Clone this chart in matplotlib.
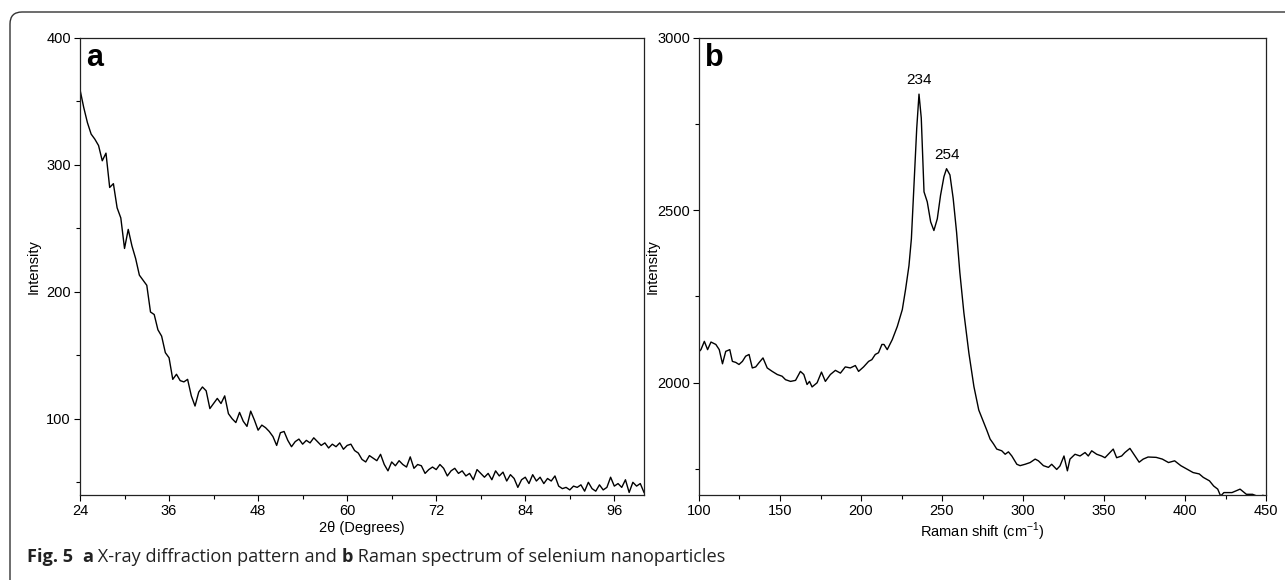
import numpy as np
import matplotlib
matplotlib.use("Agg")
import matplotlib.pyplot as plt
from matplotlib.ticker import MultipleLocator, FixedLocator
from matplotlib.patches import FancyBboxPatch

# ---------------- data ----------------
xrd_2theta = [
    24.0, 24.5, 25.0, 25.5, 26.0, 26.5, 27.0, 27.5, 28.0, 28.5,
    29.0, 29.5, 30.0, 30.5, 31.0, 31.5, 32.0, 32.5, 33.0, 33.5,
    34.0, 34.5, 35.0, 35.5, 36.0, 36.5, 37.0, 37.5, 38.0, 38.5,
    39.0, 39.5, 40.0, 40.5, 41.0, 41.5, 42.0, 42.5, 43.0, 43.5,
    44.0, 44.5, 45.0, 45.5, 46.0, 46.5, 47.0, 47.5, 48.0, 48.5,
    49.0, 49.5, 50.0, 50.5, 51.0, 51.5, 52.0, 52.5, 53.0, 53.5,
    54.0, 54.5, 55.0, 55.5, 56.0, 56.5, 57.0, 57.5, 58.0, 58.5,
    59.0, 59.5, 60.0, 60.5, 61.0, 61.5, 62.0, 62.5, 63.0, 63.5,
    64.0, 64.5, 65.0, 65.5, 66.0, 66.5, 67.0, 67.5, 68.0, 68.5,
    69.0, 69.5, 70.0, 70.5, 71.0, 71.5, 72.0, 72.5, 73.0, 73.5,
    74.0, 74.5, 75.0, 75.5, 76.0, 76.5, 77.0, 77.5, 78.0, 78.5,
    79.0, 79.5, 80.0, 80.5, 81.0, 81.5, 82.0, 82.5, 83.0, 83.5,
    84.0, 84.5, 85.0, 85.5, 86.0, 86.5, 87.0, 87.5, 88.0, 88.5,
    89.0, 89.5, 90.0, 90.5, 91.0, 91.5, 92.0, 92.5, 93.0, 93.5,
    94.0, 94.5, 95.0, 95.5, 96.0, 96.5, 97.0, 97.5, 98.0, 98.5,
    99.0, 99.5, 100.0,
]
xrd_intensity = [
    359, 345, 333, 324, 320, 315, 303, 309, 282, 285,
    266, 258, 234, 249, 236, 226, 213, 209, 205, 184,
    182, 170, 165, 152, 148, 131, 135, 130, 129, 131,
    118, 110, 121, 125, 122, 108, 112, 116, 112, 118,
    104, 100, 97, 105, 98, 94, 106, 99, 91, 95,
    93, 90, 86, 79, 89, 90, 83, 78, 82, 84,
    80, 83, 81, 85, 82, 79, 81, 77, 80, 78,
    81, 76, 79, 80, 75, 73, 68, 66, 71, 69,
    67, 72, 64, 59, 66, 63, 67, 64, 62, 70,
    61, 64, 63, 57, 60, 62, 60, 64, 61, 55,
    59, 61, 57, 59, 55, 57, 52, 60, 57, 54,
    57, 52, 59, 55, 58, 51, 56, 53, 46, 52,
    54, 49, 56, 51, 54, 49, 53, 51, 55, 47,
    45, 46, 44, 47, 46, 48, 43, 50, 45, 43,
    48, 44, 46, 54, 47, 49, 46, 52, 42, 50,
    47, 49, 42,
]

raman_shift = [
    100.0, 101.2, 103.3, 105.3, 107.4, 110.4, 112.5, 114.5, 116.5, 119.0,
    120.6, 122.7, 124.7, 126.8, 128.8, 130.9, 132.9, 135.0, 137.0, 139.5,
    142.1, 145.2, 148.3, 151.3, 153.4, 156.5, 159.6, 162.6, 164.7, 166.7,
    168.2, 169.8, 172.9, 175.6, 178.0, 181.1, 184.2, 187.3, 190.3, 193.4,
    196.5, 198.5, 201.6, 204.7, 206.7, 208.8, 210.8, 212.9, 214.2, 216.2,
    219.3, 222.4, 225.5, 227.5, 229.6, 231.1, 232.7, 234.4, 235.8, 237.2,
    238.9, 240.9, 243.0, 245.0, 247.1, 249.1, 251.2, 252.8, 254.9, 256.9,
    259.0, 261.0, 263.5, 266.6, 269.7, 272.7, 275.7, 277.7, 279.7, 281.8,
    283.8, 286.9, 289.0, 291.0, 293.1, 296.2, 298.2, 301.3, 304.4, 307.5,
    309.5, 312.6, 315.7, 317.7, 320.8, 322.8, 325.3, 327.4, 329.0, 332.1,
    335.2, 338.3, 340.3, 342.4, 345.5, 348.5, 350.6, 353.7, 355.7, 357.8,
    360.9, 362.9, 366.0, 369.1, 371.7, 374.2, 377.2, 382.2, 386.0, 389.8,
    393.6, 397.4, 401.2, 405.0, 408.8, 411.3, 415.1, 417.7, 420.2, 422.0,
    424.0, 429.0, 434.0, 437.9, 441.7, 445.5, 448.0, 450.0,
]
raman_intensity = [
    2090, 2096, 2120, 2096, 2118, 2111, 2096, 2055, 2091, 2096,
    2062, 2059, 2053, 2062, 2077, 2082, 2043, 2046, 2058, 2072,
    2043, 2033, 2024, 2019, 2009, 2004, 2007, 2033, 2024, 1995,
    2004, 1988, 2000, 2031, 2004, 2024, 2036, 2028, 2046, 2043,
    2050, 2033, 2046, 2062, 2067, 2082, 2087, 2111, 2111, 2096,
    2125, 2163, 2212, 2270, 2339, 2417, 2572, 2737, 2836, 2767,
    2553, 2524, 2466, 2441, 2475, 2543, 2597, 2620, 2602, 2534,
    2436, 2320, 2203, 2086, 1989, 1921, 1886, 1862, 1837, 1823,
    1808, 1803, 1793, 1800, 1788, 1764, 1760, 1764, 1769, 1779,
    1774, 1760, 1755, 1764, 1749, 1759, 1788, 1745, 1779, 1793,
    1788, 1798, 1788, 1803, 1793, 1788, 1783, 1798, 1808, 1783,
    1788, 1798, 1810, 1788, 1770, 1779, 1785, 1784, 1779, 1769,
    1774, 1760, 1750, 1740, 1736, 1726, 1716, 1701, 1692, 1672,
    1682, 1682, 1692, 1677, 1677, 1670, 1674, 1672,
]
raman_peak_labels = ["234", "254"]
raman_peak_positions = [235.8, 252.8]

xrd_xticks = [24, 36, 48, 60, 72, 84, 96]
xrd_yticks = [100, 200, 300, 400]
raman_xticks = [100, 150, 200, 250, 300, 350, 400, 450]
raman_yticks = [2000, 2500, 3000]

caption_parts = [
    ("Fig. 5", "bold"), ("  ", "normal"), ("a", "bold"),
    (" X-ray diffraction pattern and ", "normal"), ("b", "bold"),
    (" Raman spectrum of selenium nanoparticles", "normal"),
]

# ---------------- figure ----------------
plt.rcParams['font.family'] = ['Liberation Sans', 'DejaVu Sans']
W, H = 1285, 580
fig = plt.figure(figsize=(W / 100, H / 100), dpi=100)
fig.patch.set_facecolor('white')

top_px, bot_px = 37.5, 495
ax1 = fig.add_axes([80 / W, (H - bot_px) / H, 564 / W, (bot_px - top_px) / H])
ax2 = fig.add_axes([699 / W, (H - bot_px) / H, 567 / W, (bot_px - top_px) / H])

ax1.plot(xrd_2theta, xrd_intensity, color='black', lw=1.0)
ax1.set_xlim(24, 100)
ax1.set_ylim(40, 400)
ax1.xaxis.set_major_locator(FixedLocator(xrd_xticks))
ax1.xaxis.set_minor_locator(MultipleLocator(6))
ax1.yaxis.set_major_locator(FixedLocator(xrd_yticks))
ax1.yaxis.set_minor_locator(MultipleLocator(50))
ax1.set_xlabel('2θ (Degrees)', fontsize=10.5, labelpad=2)
ax1.set_ylabel('Intensity', fontsize=10.5)
ax1.yaxis.set_label_coords(-0.069, 0.5)

ax2.plot(raman_shift, raman_intensity, color='black', lw=1.0)
ax2.set_xlim(100, 450)
ax2.set_ylim(1675, 3000)
ax2.xaxis.set_major_locator(FixedLocator(raman_xticks))
ax2.xaxis.set_minor_locator(MultipleLocator(25))
ax2.yaxis.set_major_locator(FixedLocator(raman_yticks))
ax2.yaxis.set_minor_locator(MultipleLocator(250))
ax2.set_xlabel('Raman shift (cm$^{\\mathregular{-1}}$)', fontsize=10.5, labelpad=2)
ax2.set_ylabel('Intensity', fontsize=10.5)
ax2.yaxis.set_label_coords(-0.070, 0.5)

for lab, xp in zip(raman_peak_labels, raman_peak_positions):
    yp = np.interp(xp, raman_shift, raman_intensity)
    ax2.annotate(lab, xy=(xp, yp), xytext=(0, 7), textcoords='offset points',
                 ha='center', va='baseline', fontsize=11)

for ax, letter in ((ax1, 'a'), (ax2, 'b')):
    for s in ax.spines.values():
        s.set_linewidth(0.9)
        s.set_color('#222222')
    ax.tick_params(which='major', direction='out', length=4.5, width=0.8,
                   labelsize=10.5, pad=2, top=False, right=False)
    ax.tick_params(which='minor', direction='out', length=3, width=0.8,
                   top=False, right=False)
    ax.text(0.011, 0.938, letter, transform=ax.transAxes, fontsize=22,
            fontweight='bold', ha='left', va='baseline')

# rounded frame around the figure (only top/left visible)
frame = FancyBboxPatch((10, -60), 1400, H - 12 + 60,
                       boxstyle="round,pad=0,rounding_size=12",
                       transform=None, fill=False, edgecolor='#333333',
                       linewidth=1.0, clip_on=False)
fig.add_artist(frame)

# caption built from parts with mixed weights
renderer = fig.canvas.get_renderer()
x_cur = 27
for txt, weight in caption_parts:
    t = fig.text(x_cur / W, (H - 561.5) / H, txt, fontsize=13.1,
                 family=['Open Sans', 'DejaVu Sans'], fontweight=weight,
                 color='#222222', ha='left', va='baseline')
    bb = t.get_window_extent(renderer=renderer)
    x_cur = bb.x1 if txt.strip() else x_cur + 9

fig.savefig('out.png', dpi=100, facecolor='white')
